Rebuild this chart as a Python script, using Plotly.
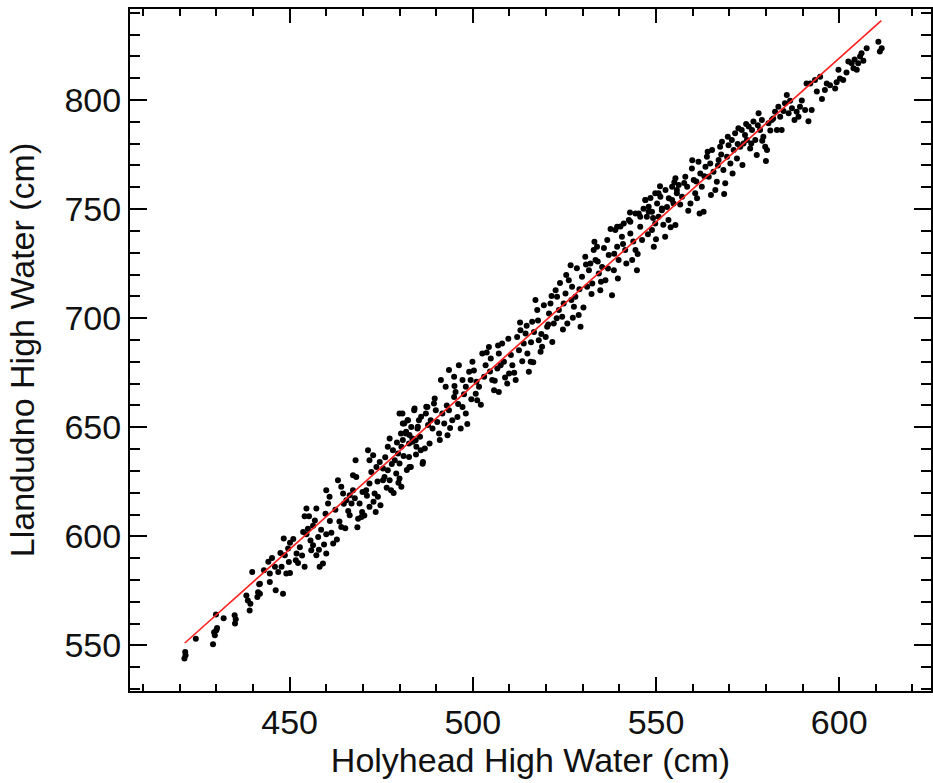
import plotly.graph_objects as go

# Holyhead (x) vs Llandudno (y) high water, cm
holyhead = [
    421.5, 421.6, 421.3, 424.4, 429.1, 429.6, 430.0, 429.4, 430.2, 429.9, 432.0,
    435.0, 435.3, 435.1, 438.2, 439.3, 439.1, 438.6, 439.8, 441.4, 441.9, 441.2,
    454.6, 455.3, 454.1, 457.3, 456.4, 453.7, 454.6, 457.8, 460.0, 461.4, 461.9,
    464.1, 456.4, 455.9, 458.0, 457.3, 460.0, 459.1, 458.2, 454.1, 451.9, 451.7,
    452.3, 449.6, 448.7, 448.4, 450.1, 449.1, 450.1, 447.8, 446.0, 446.9, 444.6,
    444.2, 446.2, 448.2, 441.7, 441.9, 444.6,
    460.0, 460.9, 460.5, 463.2, 464.1, 464.6, 465.5, 466.4, 466.9, 467.3, 466.4,
    469.1, 468.7, 469.6, 469.8, 471.8, 473.5, 470.9, 471.8, 468.2, 467.3, 468.0,
    471.4, 471.8, 472.8, 473.7, 474.6, 475.5, 475.9, 475.5, 476.8, 477.3, 478.2,
    478.7, 479.6, 480.0, 480.5, 480.9, 481.8, 482.7, 483.6, 484.6, 485.0, 484.1,
    480.0, 480.9, 482.3, 485.9, 487.3, 486.4, 482.7, 480.0, 477.7, 480.5, 477.3,
    474.1, 473.2, 479.1, 476.8,
    480.8, 481.3, 481.7, 482.6, 483.5, 484.9, 485.3, 484.0, 482.2, 480.4, 482.6,
    485.8, 486.3, 483.1, 484.4, 487.2, 487.6, 488.5, 489.0, 489.9, 490.8, 491.7,
    492.2, 493.5, 494.4, 494.9, 495.8, 496.7, 493.1, 489.4, 497.2, 498.1, 491.3,
    492.6, 493.5, 494.9, 495.3, 496.2, 497.2, 498.1, 499.0, 499.4, 499.9, 500.8,
    501.7, 501.2, 502.6, 503.1, 503.5, 504.4, 504.9, 505.3, 505.8, 506.7, 507.1,
    507.1, 508.0, 508.5, 509.4, 509.9, 510.8, 511.7, 512.1, 512.6, 513.0, 513.9,
    514.4, 514.9, 515.3, 515.8, 516.2, 516.7, 517.1, 517.6, 518.0, 518.5, 518.9,
    519.9, 520.3, 520.8, 521.2, 521.7, 522.1, 522.6, 523.0, 523.5, 524.4, 524.8,
    525.3, 525.8, 526.2, 526.7, 527.1, 527.6, 528.0, 528.9, 529.4, 529.8, 530.7,
    531.2, 531.7, 532.1, 532.6, 533.0, 533.5, 533.9, 534.4, 534.8, 535.3, 536.2,
    536.7, 537.1, 538.0, 538.5, 538.9, 539.4, 539.8, 540.7, 541.2, 541.6, 542.6,
    543.0, 543.5, 544.4, 544.8, 545.3, 545.7, 546.2, 547.1, 547.5, 548.0, 548.9,
    549.4, 549.8, 550.7, 551.6, 552.5, 553.4, 554.4, 555.3, 555.7,
    539.4, 543.0, 544.4, 545.7, 547.1, 548.0, 548.9, 549.8, 550.3, 550.7, 551.2,
    551.6, 552.6, 553.5, 554.4, 554.8, 555.3, 555.7, 556.2, 557.1, 558.0, 558.5,
    559.4, 559.8, 560.3, 560.7, 561.2, 561.6, 562.1, 562.5, 563.0, 563.5, 563.9,
    564.4, 564.8, 565.3, 565.7, 566.2, 566.6, 567.1, 567.5, 568.0, 568.4, 568.9,
    569.4, 569.8, 570.3, 570.7, 571.2, 571.6, 572.1, 572.5, 573.0, 573.4, 573.9,
    574.3, 574.8, 575.3, 575.7, 576.2, 576.6, 577.1, 577.5, 578.0, 578.4, 578.9,
    579.3, 579.8, 580.3, 580.7, 581.6, 582.5, 583.0, 583.4, 583.9, 584.3, 585.2,
    585.7, 586.2, 587.1, 588.4, 588.9, 589.3, 590.7, 591.1, 592.1, 592.5, 593.4,
    594.8, 596.1, 596.6, 598.9, 599.8, 600.2, 601.1, 602.5, 603.4, 603.9, 604.8,
    605.2, 605.7, 606.1, 610.7, 611.1, 611.6,
    443.0, 445.2, 447.5, 449.8, 451.0, 452.8, 453.4, 455.0, 455.7, 456.9, 458.6,
    459.4, 459.8, 461.0, 462.5, 462.9, 463.6, 464.8, 465.2, 466.0, 467.8, 468.5,
    469.9, 470.4, 471.1, 472.3, 472.9, 474.0, 474.8, 476.1, 476.5, 477.9, 478.4,
    479.3, 479.7, 481.1, 482.0, 483.2, 484.5, 485.6, 486.9, 487.8, 488.2, 489.6,
    490.3, 491.0, 492.9, 493.8, 495.0, 496.0, 497.6, 498.5, 499.6, 500.3, 501.0,
    502.2, 503.8, 504.7, 506.0, 506.9, 507.6, 508.8, 509.7, 510.4, 511.3, 512.9,
    513.5, 514.7, 515.9, 516.5, 517.8, 518.7, 519.4, 520.6, 521.5, 522.9, 523.8,
    524.6, 525.5, 526.9, 527.3, 528.4, 529.1, 530.2, 530.9, 532.4, 533.2, 534.1,
    535.0, 535.8, 536.9, 537.6, 538.6, 539.6, 540.3, 541.0, 541.9, 542.9, 543.8,
    545.0, 546.6, 547.8, 548.5, 549.2, 550.0, 551.1, 552.0, 553.0, 554.0, 555.0,
    556.6, 557.7, 558.8, 559.9, 561.0, 561.9, 563.2, 564.1, 565.0, 566.9, 567.8,
    568.6, 569.6, 570.9, 572.3, 573.6, 574.6, 576.0, 577.8, 579.0, 580.0, 581.2,
    582.0, 584.8, 586.6, 587.8, 589.8, 591.6, 593.9, 595.3, 597.5, 599.3, 602.0,
    604.2, 606.6, 607.5,
]
llandudno = [
    547.0, 545.5, 544.0, 553.1, 550.5, 554.6, 557.0, 556.0, 558.0, 564.2, 562.5,
    563.8, 562.0, 560.0, 572.9, 569.1, 566.0, 570.6, 583.6, 574.4, 578.3, 572.2,
    612.7, 609.2, 609.2, 612.7, 604.8, 602.0, 600.9, 599.7, 600.9, 601.6, 596.7,
    604.3, 595.9, 593.6, 593.9, 591.3, 592.1, 587.5, 586.0, 586.0, 592.1, 589.0,
    587.8, 594.4, 591.3, 599.0, 597.0, 582.9, 583.2, 586.0, 586.0, 583.7, 579.1,
    588.3, 575.3, 573.7, 578.0, 573.7, 582.9,
    621.1, 618.1, 615.0, 625.7, 622.7, 619.6, 616.5, 618.8, 615.0, 621.1, 609.7,
    615.0, 608.1, 608.9, 611.2, 613.5, 611.2, 621.1, 624.2, 627.2, 628.0, 634.9,
    639.5, 634.9, 637.2, 631.8, 634.1, 631.1, 627.2, 625.7, 641.0, 644.8, 639.5,
    634.9, 638.0, 633.4, 641.0, 644.1, 647.9, 646.4, 643.3, 641.0, 650.2, 658.6,
    656.3, 651.7, 653.2, 654.8, 659.4, 634.1, 631.8, 626.5, 621.1, 622.7, 625.7,
    618.1, 619.6, 628.8, 630.3,
    656.3, 651.7, 647.1, 642.5, 644.8, 649.4, 653.2, 657.8, 653.2, 647.1, 636.4,
    639.5, 633.3, 631.8, 644.0, 656.3, 659.3, 653.2, 649.4, 657.8, 647.1, 656.3,
    651.7, 657.8, 653.2, 663.9, 654.7, 649.4, 646.3, 660.9, 659.3, 656.3, 671.6,
    668.5, 676.2, 673.1, 666.2, 678.4, 671.6, 668.5, 675.4, 671.6, 680.0, 665.4,
    668.5, 662.4, 683.8, 673.1, 678.4, 686.8, 681.5, 671.6, 667.0, 676.9, 683.8,
    666.2, 688.4, 680.0, 670.0, 674.6, 678.4, 671.6, 691.4, 685.3, 694.5, 688.4,
    693.0, 683.8, 675.4, 680.0, 698.3, 693.7, 708.3, 703.7, 689.9, 684.6, 686.9,
    691.4, 696.0, 702.1, 706.7, 689.1, 697.5, 712.8, 709.8, 703.7, 700.6, 706.7,
    711.3, 697.5, 717.4, 724.3, 714.4, 705.2, 709.8, 701.4, 696.0, 719.0, 728.1,
    714.4, 722.0, 725.1, 715.9, 731.2, 726.6, 732.7, 720.5, 712.8, 723.5, 717.4,
    735.8, 728.9, 710.5, 722.0, 740.4, 732.7, 726.6, 737.3, 743.4, 731.2, 745.0,
    738.8, 726.6, 731.2, 722.0, 748.0, 741.9, 735.8, 754.1, 746.5, 748.8, 740.4,
    732.7, 743.4, 757.2, 749.5, 737.3, 745.0, 754.1, 742.7, 758.7,
    741.9, 744.2, 748.0, 746.5, 754.1, 751.1, 748.8, 757.2, 752.6, 746.5, 755.6,
    750.3, 758.7, 754.9, 760.2, 752.6, 764.1, 757.2, 761.0, 755.6, 764.8, 760.2,
    752.6, 768.6, 763.3, 757.2, 754.9, 771.7, 766.3, 760.2, 748.8, 769.4, 774.0,
    764.8, 770.9, 777.1, 767.1, 758.7, 762.5, 772.5, 778.6, 780.9, 767.9, 761.8,
    774.0, 779.3, 770.9, 781.6, 777.1, 784.7, 773.2, 787.0, 778.6, 786.2, 780.1,
    783.9, 781.6, 787.8, 777.8, 786.2, 790.1, 781.6, 774.8, 793.9, 786.2, 790.8,
    783.2, 778.6, 777.1, 789.3, 790.8, 794.6, 786.2, 796.9, 792.3, 786.2, 798.5,
    802.3, 793.9, 796.2, 794.6, 792.3, 796.9, 795.4, 807.6, 807.6, 795.4, 809.2,
    810.7, 804.6, 807.6, 805.3, 813.8, 809.9, 809.2, 817.6, 816.8, 814.5, 813.8,
    816.8, 819.9, 821.4, 826.7, 822.2, 823.7,
    584.5, 590.1, 592.4, 588.2, 598.8, 595.0, 591.2, 603.5, 598.1, 607.3, 603.0,
    596.2, 610.4, 607.0, 612.2, 598.5, 606.8, 614.9, 603.7, 611.6, 617.4, 604.2,
    620.3, 609.5, 618.6, 629.5, 615.8, 625.1, 614.2, 636.2, 622.3, 633.1, 619.9,
    643.0, 624.5, 636.8, 630.4, 650.1, 637.5, 645.6, 640.3, 651.0, 642.6, 663.2,
    652.4, 644.2, 660.0, 649.6, 668.9, 660.7, 665.1, 651.5, 662.8, 676.0, 670.9,
    660.3, 684.3, 675.5, 671.3, 687.5, 678.4, 672.8, 690.6, 683.1, 675.0, 698.0,
    680.2, 696.5, 689.0, 679.8, 698.9, 692.7, 705.9, 697.1, 710.2, 700.0, 716.1,
    694.8, 719.8, 708.3, 700.2, 722.9, 713.2, 704.9, 724.6, 711.1, 735.0, 726.0,
    716.7, 732.1, 722.8, 740.9, 729.5, 718.2, 742.0, 734.0, 725.0, 748.4, 735.1,
    729.4, 750.2, 738.5, 755.1, 745.9, 736.2, 760.5, 742.8, 750.9, 741.7, 762.3,
    752.1, 762.0, 749.2, 772.4, 762.6, 748.0, 765.0, 776.3, 756.4, 770.0, 775.0,
    756.9, 783.1, 766.3, 779.8, 770.2, 789.0, 780.0, 788.4, 781.3, 772.0, 786.0,
    791.5, 795.0, 799.6, 790.8, 799.8, 790.2, 803.9, 800.5, 806.7, 808.1, 812.6,
    818.6, 818.0, 823.7,
]

# Fitted line end points (x) and its values (y)
fit_x = [421.4, 611.5]
fit_y = [551.1, 836.4]

x_ticks = [450, 500, 550, 600]
y_ticks = [550, 600, 650, 700, 750, 800]

FONT = "Liberation Sans, Arial, sans-serif"
INK = "#111111"
FS = 34

fig = go.Figure()
fig.add_trace(go.Scatter(
    x=holyhead, y=llandudno, mode="markers",
    marker=dict(color="black", size=6, line=dict(width=0)),
    showlegend=False, hoverinfo="skip"))
fig.add_trace(go.Scatter(
    x=fit_x, y=fit_y, mode="lines",
    line=dict(color="#ff2020", width=1.6),
    showlegend=False, hoverinfo="skip"))

axis_common = dict(
    showline=True, linecolor="black", linewidth=2, mirror="ticks",
    ticks="inside", tickwidth=2, tickcolor="black",
    showgrid=False, zeroline=False,
    tickfont=dict(family=FONT, size=FS, color=INK),
)

fig.update_xaxes(
    range=[406.44, 625.06], tickvals=x_ticks, ticklen=14,
    minor=dict(ticks="inside", dtick=10, tick0=400, ticklen=7, tickwidth=2,
               tickcolor="black", showgrid=False),
    title=dict(text="Holyhead High Water (cm)",
               font=dict(family=FONT, size=FS, color=INK), standoff=2),
    **axis_common)
fig.update_yaxes(
    range=[529.1, 841.7], tickvals=y_ticks, ticklen=17,
    minor=dict(ticks="inside", dtick=10, tick0=500, ticklen=10, tickwidth=2,
               tickcolor="black", showgrid=False),
    title=dict(text="Llandudno High Water (cm)",
               font=dict(family=FONT, size=FS, color=INK), standoff=20),
    **axis_common)

fig.update_layout(
    width=933, height=783,
    margin=dict(l=130, r=0, t=9, b=92, pad=0),
    paper_bgcolor="white", plot_bgcolor="white",
    font=dict(family=FONT, size=FS, color=INK),
)

fig.write_html(
    "out.html",
    config={"displayModeBar": False},
    post_script="document.body.style.margin='0px';"
                "document.body.style.overflow='hidden';",
)
